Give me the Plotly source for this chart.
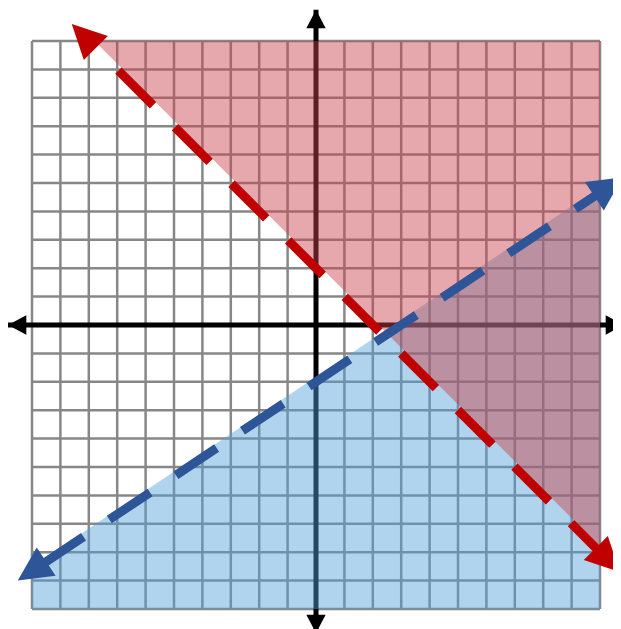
import numpy as np
import plotly.graph_objects as go

# grid covers -10..10 in both directions
grid_ticks = list(range(-10, 11))

# dashed boundary lines: arrow tip at each end
red_x = [-8.6, 10.7]
red_y = [10.6, -8.7]
blue_x = [-10.5, 10.8]
blue_y = [-9.0, 5.2]

# shaded half-planes, clipped to the grid square
red_fill_x = [-7.8, 10, 10]
red_fill_y = [10, 10, -7.8]
blue_fill_x = [-10, 10, 10, -10]
blue_fill_y = [-8.5, 4.85, -10, -10]

# axes ends
axis_x = [-10.85, 10.85]
axis_y = [-10.85, 11.1]

UNIT = 28.4  # px per grid unit


def unit_dir(a, b):
    d = np.array(b, float) - np.array(a, float)
    return d / np.hypot(*d)


def arrow_head(tip, back, length, half):
    tip = np.array(tip, float)
    d = unit_dir(back, tip)
    n = np.array([-d[1], d[0]])
    base = tip - d * length
    p1 = base + n * half
    p2 = base - n * half
    return [tip[0], p1[0], p2[0], tip[0]], [tip[1], p1[1], p2[1], tip[1]]


fig = go.Figure()

# grid
gx, gy = [], []
for t in grid_ticks:
    gx += [t, t, None, -10, 10, None]
    gy += [-10, 10, None, t, t, None]
fig.add_trace(go.Scatter(x=gx, y=gy, mode="lines",
                         line=dict(color="#878787", width=2.5),
                         hoverinfo="skip", showlegend=False))

# axes
fig.add_trace(go.Scatter(x=[axis_x[0], axis_x[1], None, 0, 0],
                         y=[0, 0, None, axis_y[0], axis_y[1]],
                         mode="lines", line=dict(color="black", width=5),
                         hoverinfo="skip", showlegend=False))
for tip in [(axis_x[0], 0), (axis_x[1], 0), (0, axis_y[0]), (0, axis_y[1])]:
    hx, hy = arrow_head(tip, (0, 0), 0.65, 0.34)
    fig.add_trace(go.Scatter(x=hx, y=hy, mode="lines", fill="toself",
                             fillcolor="black", line=dict(width=0),
                             hoverinfo="skip", showlegend=False))

# shaded regions
fig.add_trace(go.Scatter(x=blue_fill_x, y=blue_fill_y, mode="lines", fill="toself",
                         fillcolor="rgba(80,160,215,0.45)", line=dict(width=0),
                         hoverinfo="skip", showlegend=False))
fig.add_trace(go.Scatter(x=red_fill_x, y=red_fill_y, mode="lines", fill="toself",
                         fillcolor="rgba(200,65,75,0.46)", line=dict(width=0),
                         hoverinfo="skip", showlegend=False))

# dashed lines with arrows at both ends; dash phase set by where the line starts
for lx, ly, col, lead in [(red_x, red_y, "#c00000", 66), (blue_x, blue_y, "#2e5597", 30)]:
    p0 = np.array([lx[0], ly[0]])
    p1 = np.array([lx[1], ly[1]])
    s = p0 + unit_dir(p0, p1) * lead / UNIT
    fig.add_trace(go.Scatter(x=[s[0], p1[0]], y=[s[1], p1[1]], mode="lines",
                             line=dict(color=col, width=9, dash="49px,31px"),
                             hoverinfo="skip", showlegend=False))
    for tip, back in [(p0, p1), (p1, p0)]:
        hx, hy = arrow_head(tip, back, 1.2, 0.6)
        fig.add_trace(go.Scatter(x=hx, y=hy, mode="lines", fill="toself",
                                 fillcolor=col, line=dict(width=0, color=col),
                                 hoverinfo="skip", showlegend=False))

# the page body has an 8px margin, so the ranges are shifted to compensate
fig.update_layout(
    width=613, height=621,
    margin=dict(l=0, r=0, t=0, b=0),
    paper_bgcolor="white", plot_bgcolor="white",
    xaxis=dict(range=[-308 / UNIT, 305 / UNIT], visible=False, fixedrange=True),
    yaxis=dict(range=[-304 / UNIT, 317 / UNIT], visible=False, fixedrange=True),
)

fig.write_html("out.html")
